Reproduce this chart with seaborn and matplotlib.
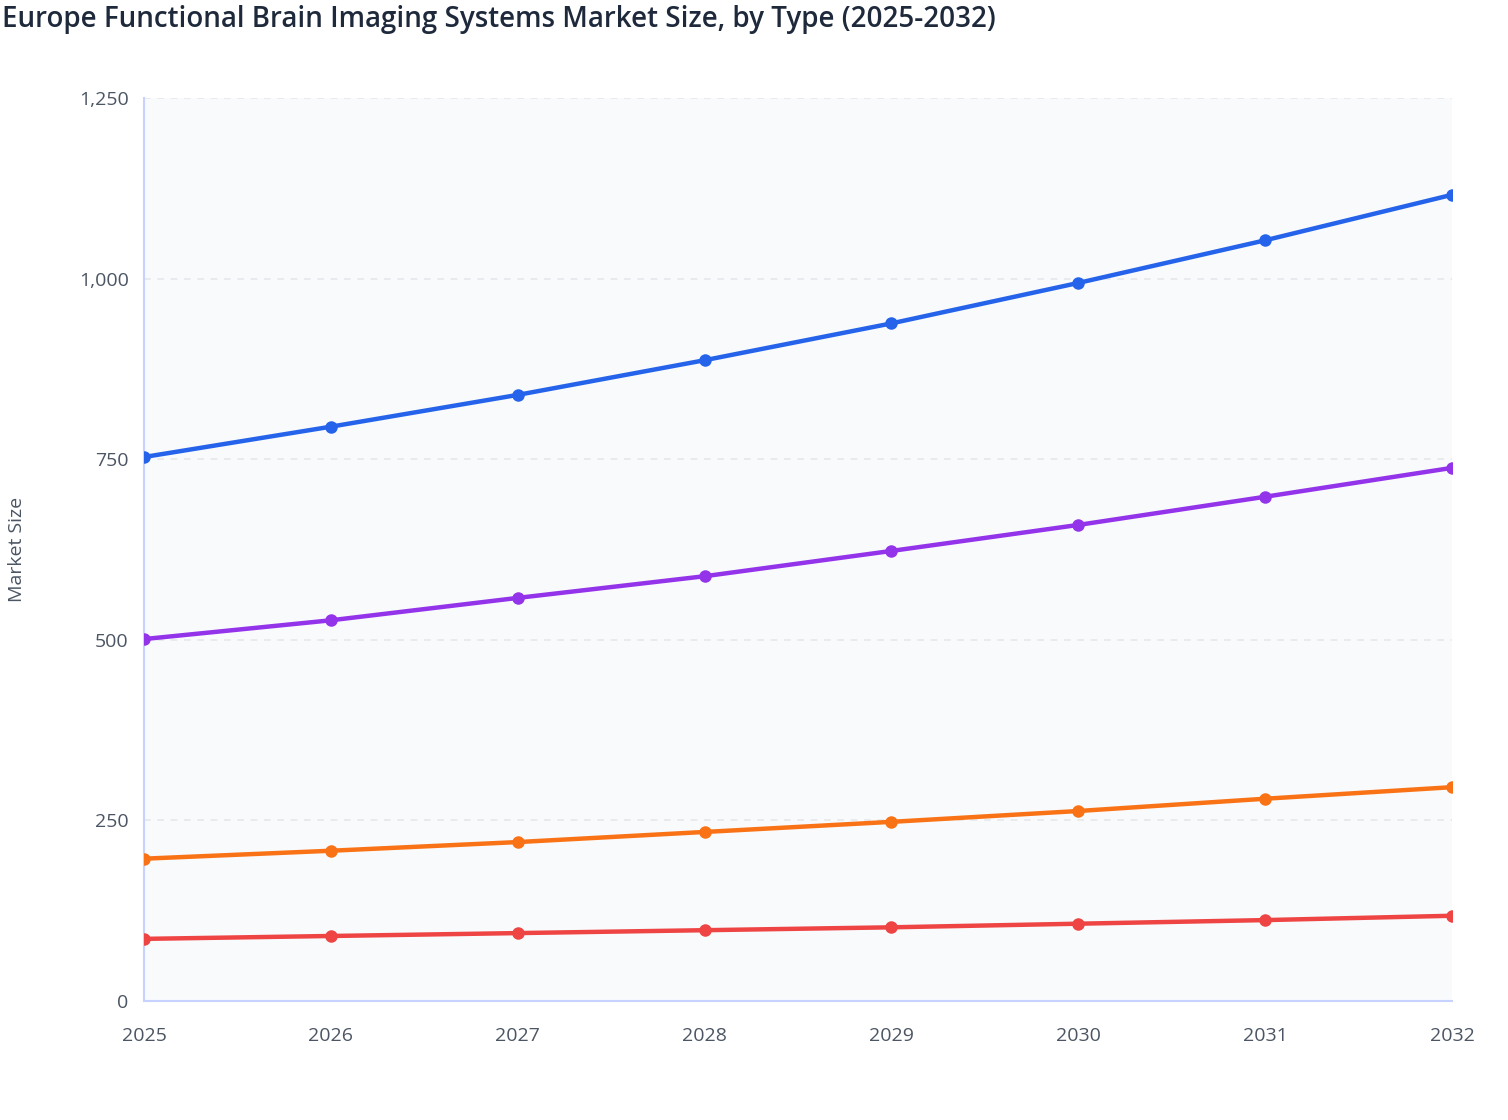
import numpy as np
import pandas as pd
import matplotlib as mpl
import matplotlib.pyplot as plt
import seaborn as sns
from matplotlib.ticker import FuncFormatter

# data
years = [2025, 2026, 2027, 2028, 2029, 2030, 2031, 2032]
series_a = [753, 795, 839, 887, 938, 994, 1053, 1116]
series_b = [501, 527, 558, 588, 623, 659, 698, 738]
series_c = [197, 208, 220, 234, 248, 263, 280, 296]
series_d = [86, 90, 94, 98, 102, 107, 112, 118]
names = ['Type A', 'Type B', 'Type C', 'Type D']
colors = ['#2563eb', '#9333ea', '#f97316', '#ef4444']

df = pd.DataFrame({'year': years * 4,
                   'size': series_a + series_b + series_c + series_d,
                   'type': np.repeat(names, len(years))})

sns.set_theme(style='white')
plt.rcParams['font.family'] = ['Open Sans', 'DejaVu Sans']

fig = plt.figure(figsize=(15.08, 11.2), dpi=100)
ax = fig.add_axes([144 / 1508, 1 - 1001 / 1120, (1452 - 144) / 1508, (1001 - 98) / 1120])
ax.set_facecolor('#f8fafc')

sns.lineplot(data=df, x='year', y='size', hue='type', palette=colors,
             marker='o', markersize=9, markeredgewidth=0, linewidth=3.2,
             legend=False, ax=ax, zorder=3)

ax.set_xlim(2025, 2032)
ax.set_ylim(0, 1250)
ax.set_xticks(years)
ax.set_yticks([0, 250, 500, 750, 1000, 1250])
ax.yaxis.set_major_formatter(FuncFormatter(lambda v, p: f'{int(v):,}'))

ax.grid(axis='y', color='#e5e7eb', linestyle=(0, (4, 4)), linewidth=1.2, zorder=0)
ax.grid(axis='x', visible=False)
for side in ['top', 'right']:
    ax.spines[side].set_visible(False)
for side in ['left', 'bottom']:
    ax.spines[side].set_color('#c7d2fe')
    ax.spines[side].set_linewidth(1.5)

ax.tick_params(axis='both', length=7, width=1.5, color='#c7d2fe',
               labelsize=14, labelcolor='#4b5563', direction='out')
ax.tick_params(axis='x', pad=12)
ax.tick_params(axis='y', pad=4)

ax.set_xlabel('')
ax.set_ylabel('Market Size', fontsize=14, color='#4b5563', labelpad=0)
ax.yaxis.set_label_coords(-118 / 1308, 0.5)

fig.text(2 / 1508, 1 - 19 / 1120, 'Europe Functional Brain Imaging Systems Market Size, by Type (2025-2032)',
         fontsize=20, color='#1e293b', fontweight='semibold', va='center', ha='left')

fig.savefig('out.png', dpi=100)
